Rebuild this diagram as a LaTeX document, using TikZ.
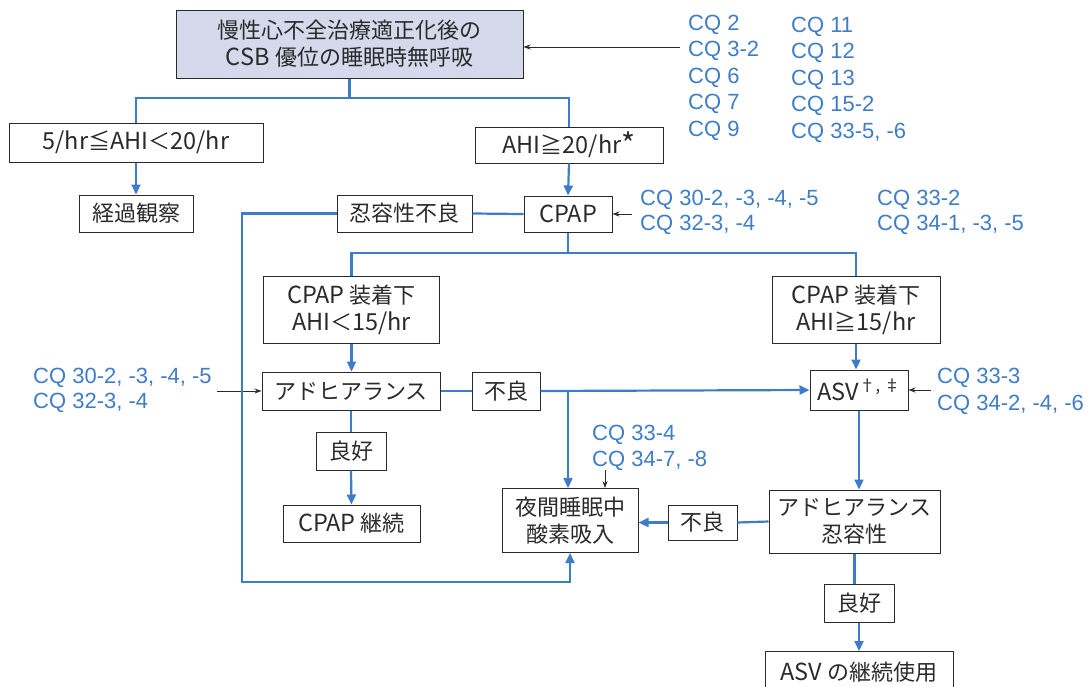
\documentclass[tikz,border=0pt]{standalone}
\usepackage{fontspec}
\setmainfont{Noto Sans CJK JP}
\newfontfamily\cqf{Liberation Sans}
\usetikzlibrary{arrows.meta}
\definecolor{bl}{HTML}{3D7CC6}
\definecolor{cq}{HTML}{3F7DC8}
\definecolor{tx}{HTML}{2A2A2A}
\definecolor{topfill}{HTML}{D4D9EB}
\newcommand\lt[1]{{\fontsize{23.5}{27}\selectfont #1}}
\tikzset{
  x=1pt, y=-1pt,
  box/.style={draw=tx, line width=1pt, inner sep=0pt, align=center, text=tx,
     font=\fontsize{22}{27}\selectfont},
  bline/.style={draw=bl, line width=2.2pt},
  barrow/.style={bline, -{Triangle[length=10pt,width=9pt]}},
  karrow/.style={draw=tx, line width=0.8pt, -{Stealth[length=7pt,width=5pt]}},
  cqtext/.style={anchor=north west, align=left, text=cq, inner sep=0pt},
}
\newcommand\cqs[1]{\cqf\fontsize{22}{#1}\selectfont}
\begin{document}
\begin{tikzpicture}
\useasboundingbox (0,0) rectangle (1087,686);
% boxes
\node[box, fill=topfill, minimum width=347, minimum height=68] (top) at (349.5,44) {慢性心不全治療適正化後の\\\lt{CSB }優位の睡眠時無呼吸};
\node[box, minimum width=254, minimum height=39] (a1) at (136,142.5) {\lt{5/hr}≦\lt{AHI}＜\lt{20/hr}};
\node[box, minimum width=188, minimum height=36] (a2) at (569,145) {\lt{AHI}≧\lt{20/hr}{\fontsize{30}{27}\selectfont\raisebox{-2pt}{*}}};
\node[box, minimum width=114, minimum height=37] (obs) at (136,213.5) {経過観察};
\node[box, minimum width=88, minimum height=36] (cpap) at (568,214) {\lt{CPAP}};
\node[box, minimum width=135, minimum height=37] (nin) at (404.5,213.5) {忍容性不良};
\node[box, minimum width=176, minimum height=67] (low) at (351.5,309.5) {\lt{CPAP }装着下\\\lt{AHI}＜\lt{15/hr}};
\node[box, minimum width=168, minimum height=67] (high) at (856,309.5) {\lt{CPAP }装着下\\\lt{AHI}≧\lt{15/hr}};
\node[box, minimum width=178, minimum height=38] (adh) at (351,391) {アドヒアランス};
\node[box, minimum width=68, minimum height=38] (bad1) at (506,391) {不良};
\node[box, minimum width=98, minimum height=40] (asv) at (859,390) {\lt{ASV\textsuperscript{†, ‡}}};
\node[box, minimum width=70, minimum height=38] (good1) at (351,451) {良好};
\node[box, minimum width=137, minimum height=37] (cont) at (351.5,523.5) {\lt{CPAP }継続};
\node[box, minimum width=136, minimum height=64] (oxy) at (570,520.5) {夜間睡眠中\\酸素吸入};
\node[box, minimum width=171, minimum height=63] (adh2) at (854.5,521.5) {アドヒアランス\\忍容性};
\node[box, minimum width=69, minimum height=35] (bad2) at (702.5,522.5) {不良};
\node[box, minimum width=70, minimum height=38] (good2) at (859,603) {良好};
\node[box, minimum width=188, minimum height=42, anchor=north] (asvc) at (859,651) {\lt{ASV }の継続使用};
% CQ labels
\node[cqtext, font=\cqs{26.5}] (cq1) at (688,14.7) {CQ 2\\CQ 3-2\\CQ 6\\CQ 7\\CQ 9};
\node[cqtext, font=\cqs{26.5}] (cq2) at (791,16.5) {CQ 11\\CQ 12\\CQ 13\\CQ 15-2\\CQ 33-5, -6};
\node[cqtext, font=\cqs{25}] (cq3) at (640,189.5) {CQ 30-2, -3, -4, -5\\CQ 32-3, -4};
\node[cqtext, font=\cqs{25}] (cq4) at (877,189.5) {CQ 33-2\\CQ 34-1, -3, -5};
\node[cqtext, font=\cqs{25}] (cq5) at (33,367.5) {CQ 30-2, -3, -4, -5\\CQ 32-3, -4};
\node[cqtext, font=\cqs{27}] (cq6) at (937,367.5) {CQ 33-3\\CQ 34-2, -4, -6};
\node[cqtext, font=\cqs{26}] (cq7) at (592,424.5) {CQ 33-4\\CQ 34-7, -8};
% black arrows
\coordinate (k1) at (680,47);
\draw[karrow] (k1) -- (k1 -| top.east);
\coordinate (k2) at (632,214);
\draw[karrow] (k2) -- (cpap.east);
\coordinate (k3) at (217,391);
\draw[karrow] (k3) -- (adh.west);
\coordinate (k4) at (931,390);
\draw[karrow] (k4) -- (k4 -| asv.east);
\coordinate (k5) at (605,470);
\draw[karrow] (k5) -- (k5 |- oxy.north);
% blue connectors
\coordinate (j1) at (349.5,98);
\draw[bline] (top.south) -- (j1);
\draw[bline] (a1.north) |- (j1) -| (a2.north);
\draw[barrow] (a1.south) -- (obs.north);
\draw[barrow] (a2.south) -- (cpap.north);
\draw[bline] (cpap.west) -- (nin.east);
\coordinate (c1) at (242,582);
\draw[barrow] (nin.west) -| (c1) -| (oxy.south);
\coordinate (j2) at (568,253);
\draw[bline] (cpap.south) -- (j2);
\draw[bline] (low.north) |- (j2) -| (high.north);
\draw[barrow] (low.south) -- (low.south |- adh.north);
\draw[barrow] (high.south) -- (high.south |- asv.north);
\draw[bline] (adh.east) -- (bad1.west);
\draw[barrow] (bad1.east) -- (asv.west);
\coordinate (br) at (568,391);
\draw[barrow] (br) -- (br |- oxy.north);
\draw[bline] (adh.south) -- (good1.north);
\draw[barrow] (good1.south) -- (cont.north);
\draw[barrow] (asv.south) -- (asv.south |- adh2.north);
\draw[bline] (adh2.west) -- (bad2.east);
\draw[barrow] (bad2.west) -- (bad2.west -| oxy.east);
\draw[bline] (adh2.south) -- (adh2.south |- good2.north);
\draw[barrow] (good2.south) -- (asvc.north);
\end{tikzpicture}
\end{document}
